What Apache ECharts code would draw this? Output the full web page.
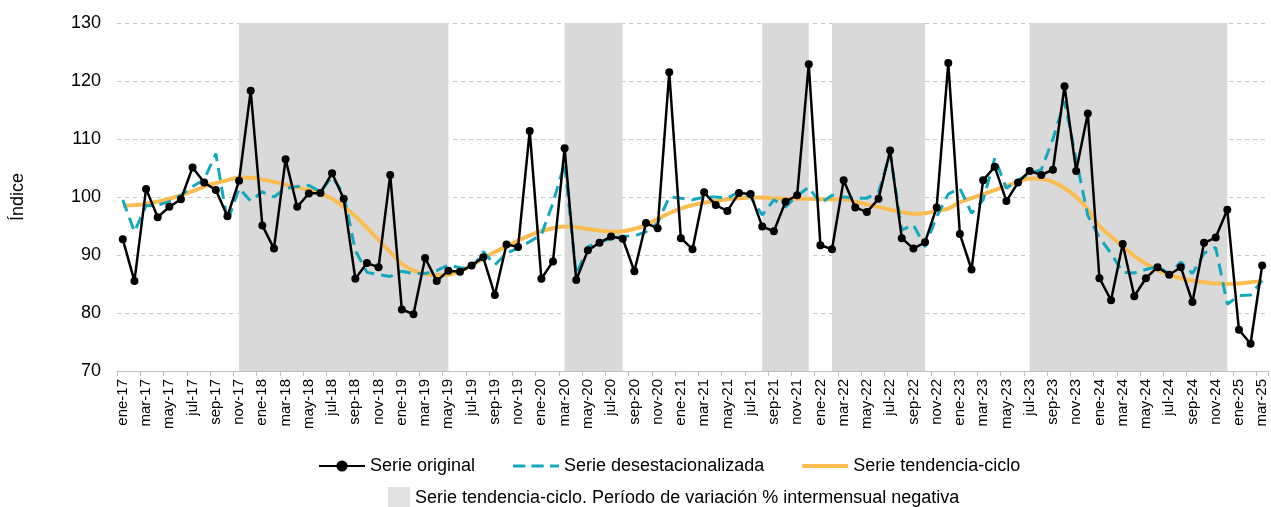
<!DOCTYPE html>
<html>
<head>
<meta charset="utf-8">
<script src="https://cdn.jsdelivr.net/npm/echarts@6/dist/echarts.min.js"></script>
<style>
html,body{margin:0;padding:0;background:#fff;}
#chart{width:1271px;height:507px;}
</style>
</head>
<body>
<div id="chart"></div>
<script>
// ---- Data ----
const monthNames = ['ene','feb','mar','abr','may','jun','jul','ago','sep','oct','nov','dic'];
const years = ['17','18','19','20','21','22','23','24','25'];
const categories = [];
years.forEach(y => monthNames.forEach((m, k) => { if (!(y === '25' && k > 2)) categories.push(m + '-' + y); }));

const serieOriginal = [
  92.7, 85.5, 101.4, 96.5, 98.3, 99.6, 105.1, 102.5, 101.2, 96.7, 102.8, 118.3,
  95.1, 91.1, 106.5, 98.3, 100.6, 100.7, 104.1, 99.7, 85.9, 88.6, 87.9, 103.8,
  80.6, 79.8, 89.5, 85.5, 87.3, 87.1, 88.2, 89.6, 83.1, 91.8, 91.4, 111.4,
  85.9, 88.9, 108.4, 85.7, 90.8, 92.1, 93.2, 92.8, 87.2, 95.5, 94.6, 121.5,
  92.9, 91.0, 100.8, 98.6, 97.6, 100.7, 100.5, 94.9, 94.1, 99.2, 100.3, 122.9,
  91.7, 91.0, 102.9, 98.2, 97.4, 99.7, 108.0, 92.9, 91.1, 92.2, 98.2, 123.1,
  93.6, 87.5, 102.9, 105.2, 99.3, 102.5, 104.5, 103.8, 104.7, 119.1, 104.5, 114.4,
  86.0, 82.2, 91.9, 82.9, 86.0, 87.9, 86.6, 87.9, 81.9, 92.1, 93.0, 97.8,
  77.1, 74.7, 88.2
];
const serieDesestacionalizada = [
  99.5, 94.0, 98.5, 98.6, 99.2, 100.3, 101.8, 103.0, 107.5, 95.7, 101.5, 99.3,
  100.9, 100.0, 101.5, 101.8, 102.0, 100.9, 103.5, 100.5, 90.8, 87.0, 86.6, 86.3,
  87.2, 86.8, 86.8, 87.3, 88.3, 87.8, 87.6, 90.6, 88.3, 90.3, 91.2, 92.3,
  93.5, 99.0, 105.8, 86.6, 91.4, 92.3, 92.8, 93.2, 93.3, 94.0, 95.5, 100.0,
  99.8, 99.5, 100.0, 100.0, 99.8, 100.9, 100.0, 96.9, 99.5, 98.3, 100.2, 101.7,
  98.9, 100.3, 100.0, 99.8, 99.8, 100.8, 107.5, 94.3, 95.2, 91.4, 96.6, 100.5,
  101.5, 97.2, 99.5, 106.7, 101.5, 102.9, 104.1, 104.7, 110.0, 116.5, 106.5, 96.8,
  93.0, 90.3, 87.0, 86.9, 87.5, 88.0, 86.8, 88.8, 86.8, 90.3, 91.3, 81.5,
  83.0, 83.1, 85.6
];
const serieTendencia = [
  98.5, 98.6, 98.8, 99.2, 99.7, 100.3, 101.0, 101.8, 102.4, 102.9, 103.3, 103.3,
  103.0, 102.6, 102.1, 101.7, 101.2, 100.6, 99.7, 98.3, 96.7, 94.7, 92.6, 90.5,
  88.5, 87.3, 86.7, 86.5, 86.6, 87.2, 88.2, 89.4, 90.5, 91.5, 92.5, 93.4,
  94.1, 94.6, 94.9, 94.8, 94.5, 94.2, 94.0, 94.1, 94.5, 95.2, 96.2, 97.2,
  98.0, 98.6, 99.0, 99.3, 99.6, 99.8, 99.9, 99.9, 99.8, 99.7, 99.7, 99.7,
  99.6, 99.6, 99.6, 99.2, 98.7, 98.3, 97.8, 97.4, 97.1, 97.2, 97.6, 98.0,
  99.1, 99.8, 100.5, 101.2, 101.9, 102.6, 103.2, 103.1, 102.6, 101.5, 100.0, 97.9,
  95.0, 93.2, 91.5, 89.8, 88.5, 87.4, 86.6, 86.0, 85.6, 85.3, 85.1, 85.0,
  85.1, 85.3, 85.5
];
// Periods of negative month-on-month variation of the trend-cycle series
const periodosNegativos = [
  ['nov-17', 'may-19'],
  ['mar-20', 'ago-20'],
  ['ago-21', 'dic-21'],
  ['feb-22', 'oct-22'],
  ['jul-23', 'dic-24']
];
const yTicks = [70, 80, 90, 100, 110, 120, 130];

// ---- Chart ----
const FONT = '"Liberation Sans", Arial, sans-serif';
const BAND_NAME = 'Serie tendencia-ciclo. Período de variación % intermensual negativa';
const ICON_SOLID = 'path://M0,0H46V4H0Z';
const ICON_DASHED = 'path://M0,0H12V3H0Z M18,0H30V3H18Z M36,0H45V3H36Z';
const chart = echarts.init(document.getElementById('chart'), null, {renderer: 'canvas'});
const option = {
  animation: false,
  backgroundColor: '#ffffff',
  textStyle: {fontFamily: FONT},
  grid: {left: 117, right: 3, top: 23, bottom: 136, containLabel: false},
  legend: [
    {
      left: 313, top: 452, itemGap: 38, itemWidth: 46, itemHeight: 14,
      symbolKeepAspect: true,
      textStyle: {fontFamily: FONT, fontSize: 18, color: '#000'},
      data: [
        {name: 'Serie original'},
        {name: 'Serie desestacionalizada', icon: ICON_DASHED},
        {name: 'Serie tendencia-ciclo', icon: ICON_SOLID}
      ]
    },
    {
      left: 383, top: 482, itemWidth: 22, itemHeight: 22, itemGap: 8,
      textStyle: {fontFamily: FONT, fontSize: 18, color: '#000'},
      data: [{name: BAND_NAME, icon: 'rect'}]
    }
  ],
  xAxis: [
    {
      type: 'category',
      data: categories,
      boundaryGap: true,
      axisLine: {show: true, lineStyle: {color: '#bfbfbf', width: 1}},
      axisTick: {show: true, interval: 1, length: 5, lineStyle: {color: '#bfbfbf'}},
      axisLabel: {interval: 1, rotate: 90, fontSize: 15, color: '#000', fontFamily: FONT, margin: 8},
      splitLine: {show: false}
    },
    {
      // hidden helper axis aligned with category centres, used for shaded periods
      type: 'value',
      min: -0.5, max: categories.length - 0.5,
      show: false
    }
  ],
  yAxis: {
    type: 'value',
    min: 70, max: 130, interval: 10,
    name: 'Índice',
    nameLocation: 'middle',
    nameRotate: 90,
    nameGap: 90,
    nameTextStyle: {fontSize: 18, color: '#000', fontFamily: FONT},
    axisLine: {show: false},
    axisTick: {show: false},
    axisLabel: {fontSize: 18, color: '#000', fontFamily: FONT, margin: 16,
      formatter: v => yTicks.includes(v) ? String(v) : ''},
    splitLine: {show: true, lineStyle: {color: '#c9c9c9', type: [4, 4], width: 1}}
  },
  series: [
    {
      name: BAND_NAME,
      type: 'scatter',
      xAxisIndex: 1,
      data: [],
      itemStyle: {color: '#d9d9d9'},
      markArea: {
        silent: true,
        itemStyle: {color: '#d9d9d9', opacity: 1},
        data: periodosNegativos.map(p => [
          {xAxis: categories.indexOf(p[0])},
          {xAxis: categories.indexOf(p[1])}
        ])
      },
      z: 1
    },
    {
      name: 'Serie original',
      type: 'line',
      data: serieOriginal,
      symbol: 'circle',
      symbolSize: 8,
      showAllSymbol: true,
      itemStyle: {color: '#000000'},
      lineStyle: {color: '#000000', width: 2.5},
      z: 4
    },
    {
      name: 'Serie desestacionalizada',
      type: 'line',
      data: serieDesestacionalizada,
      symbol: 'none',
      itemStyle: {color: '#12a9bf'},
      lineStyle: {color: '#12a9bf', width: 3, type: [12, 7]},
      z: 3
    },
    {
      name: 'Serie tendencia-ciclo',
      type: 'line',
      data: serieTendencia,
      symbol: 'none',
      smooth: 0.4,
      itemStyle: {color: '#fbbd4f'},
      lineStyle: {color: '#fbbd4f', width: 4},
      z: 2
    }
  ]
};
chart.setOption(option);
</script>
</body>
</html>
